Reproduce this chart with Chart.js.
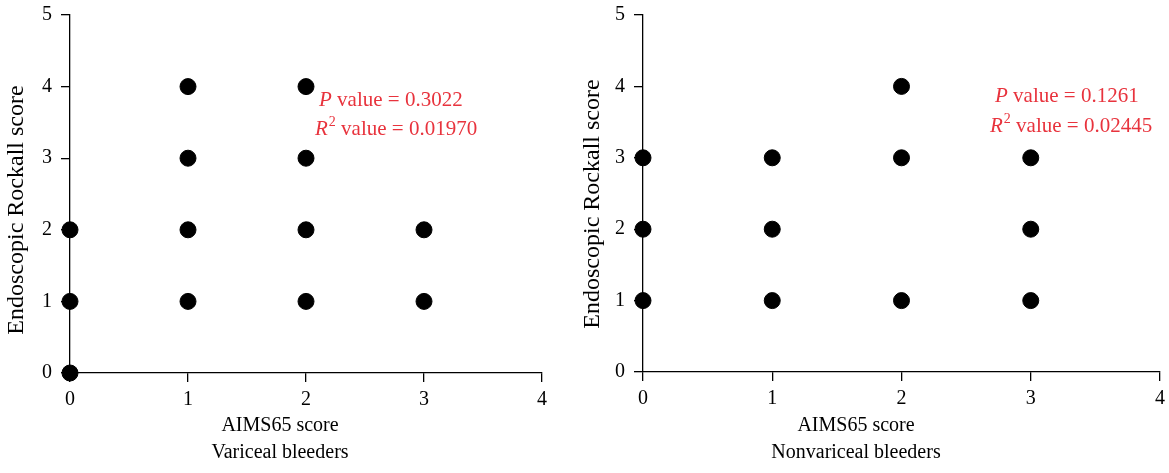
<!DOCTYPE html>
<html>
<head>
<meta charset="utf-8">
<script src="https://cdn.jsdelivr.net/npm/chart.js@4"></script>
<style>
  body { margin: 0; background: #fff; overflow: hidden; }
  .panel { position: absolute; top: 0; height: 473px; }
  #leftPanel { left: 0; width: 578px; }
  #rightPanel { left: 580px; width: 591px; }
</style>
</head>
<body>
<div class="panel" id="leftPanel"><canvas id="chartVariceal" width="578" height="473"></canvas></div>
<div class="panel" id="rightPanel"><canvas id="chartNonvariceal" width="591" height="473"></canvas></div>
<script>
// ---- data ----
var xTicks = [0, 1, 2, 3, 4];
var yTicks = [0, 1, 2, 3, 4, 5];

var varicealAims = [0, 0, 0, 1, 1, 1, 1, 2, 2, 2, 2, 3, 3];
var varicealRockall = [0, 1, 2, 1, 2, 3, 4, 1, 2, 3, 4, 1, 2];

var nonvaricealAims = [0, 0, 0, 1, 1, 1, 2, 2, 2, 3, 3, 3];
var nonvaricealRockall = [1, 2, 3, 1, 2, 3, 1, 3, 4, 1, 2, 3];

var xTitle = 'AIMS65 score';
var yTitle = 'Endoscopic Rockall score';
var groupNames = ['Variceal bleeders', 'Nonvariceal bleeders'];
var pValues = ['0.3022', '0.1261'];
var r2Values = ['0.01970', '0.02445'];

var SERIF = '"Liberation Serif", "DejaVu Serif", serif';
var RED = '#e8333d';

function toPoints(xs, ys) {
  return xs.map(function (x, i) { return { x: x, y: ys[i] }; });
}

// axis titles + stats text, drawn after the chart
function labelsPlugin(opt) {
  return {
    id: 'labels',
    afterDraw: function (chart) {
      var ctx = chart.ctx;
      ctx.save();
      ctx.fillStyle = '#000';
      ctx.font = '20px ' + SERIF;
      ctx.textAlign = 'center';
      ctx.textBaseline = 'middle';
      ctx.fillText(xTitle, opt.xTitleX, 426);
      ctx.fillText(opt.group, opt.xTitleX, 453);

      ctx.font = '24px ' + SERIF;
      ctx.translate(opt.yTitleX, opt.yTitleY);
      ctx.rotate(-Math.PI / 2);
      ctx.fillText(yTitle, 0, 0);
      ctx.setTransform(1, 0, 0, 1, 0, 0);

      // stats
      ctx.fillStyle = RED;
      ctx.textAlign = 'left';
      ctx.textBaseline = 'alphabetic';
      var x = opt.pX, y = opt.pY;
      ctx.font = 'italic 21px ' + SERIF;
      ctx.fillText('P', x, y);
      x += ctx.measureText('P').width;
      ctx.font = '21px ' + SERIF;
      ctx.fillText(' value = ' + opt.p, x, y);

      x = opt.rX; y = opt.rY;
      ctx.font = 'italic 21px ' + SERIF;
      ctx.fillText('R', x, y);
      x += ctx.measureText('R').width + 1;
      ctx.font = '14px ' + SERIF;
      ctx.fillText('2', x, y - 9);
      x += ctx.measureText('2').width;
      ctx.font = '21px ' + SERIF;
      ctx.fillText(' value = ' + opt.r2, x, y);
      ctx.restore();
    }
  };
}

function makeChart(id, xs, ys, o) {
  var axisCommon = {
    type: 'linear',
    grid: { display: true, drawOnChartArea: false, drawTicks: true, tickLength: 9, color: '#000', lineWidth: 1.3 },
    border: { display: true, color: '#000', width: 1.3 },
    ticks: { color: '#000', font: { family: SERIF, size: 20 }, stepSize: 1 }
  };
  new Chart(document.getElementById(id), {
    type: 'scatter',
    data: {
      datasets: [{
        data: toPoints(xs, ys),
        backgroundColor: '#000',
        borderColor: '#000',
        pointRadius: 8,
        pointHoverRadius: 8,
        clip: false
      }]
    },
    options: {
      responsive: false,
      animation: false,
      layout: { padding: { top: o.top, right: o.right, left: 0, bottom: 0 } },
      plugins: { legend: { display: false }, tooltip: { enabled: false } },
      scales: {
        x: Object.assign({}, axisCommon, {
          min: 0, max: 4,
          ticks: Object.assign({}, axisCommon.ticks, { padding: 6, callback: function (v) { return xTicks.indexOf(v) >= 0 ? v : ''; } }),
          afterFit: function (s) { s.height = o.xHeight; }
        }),
        y: Object.assign({}, axisCommon, {
          min: 0, max: 5,
          ticks: Object.assign({}, axisCommon.ticks, {
            padding: 9,
            font: { family: SERIF, size: 20, lineHeight: 0.5 },
            callback: function (v) { return yTicks.indexOf(v) >= 0 ? v : ''; }
          }),
          afterFit: function (s) { s.width = o.yWidth; }
        })
      }
    },
    plugins: [labelsPlugin(o)]
  });
}

makeChart('chartVariceal', varicealAims, varicealRockall, {
  top: 15, right: 36, xHeight: 100, yWidth: 70,
  group: groupNames[0], xTitleX: 280, yTitleX: 17, yTitleY: 210,
  p: pValues[0], r2: r2Values[0], pX: 319, pY: 106, rX: 315, rY: 135
});

makeChart('chartNonvariceal', nonvaricealAims, nonvaricealRockall, {
  top: 15, right: 0, xHeight: 101, yWidth: 63,
  group: groupNames[1], xTitleX: 276, yTitleX: 13, yTitleY: 204,
  p: pValues[1], r2: r2Values[1], pX: 415, pY: 102, rX: 410, rY: 132
});
</script>
</body>
</html>
